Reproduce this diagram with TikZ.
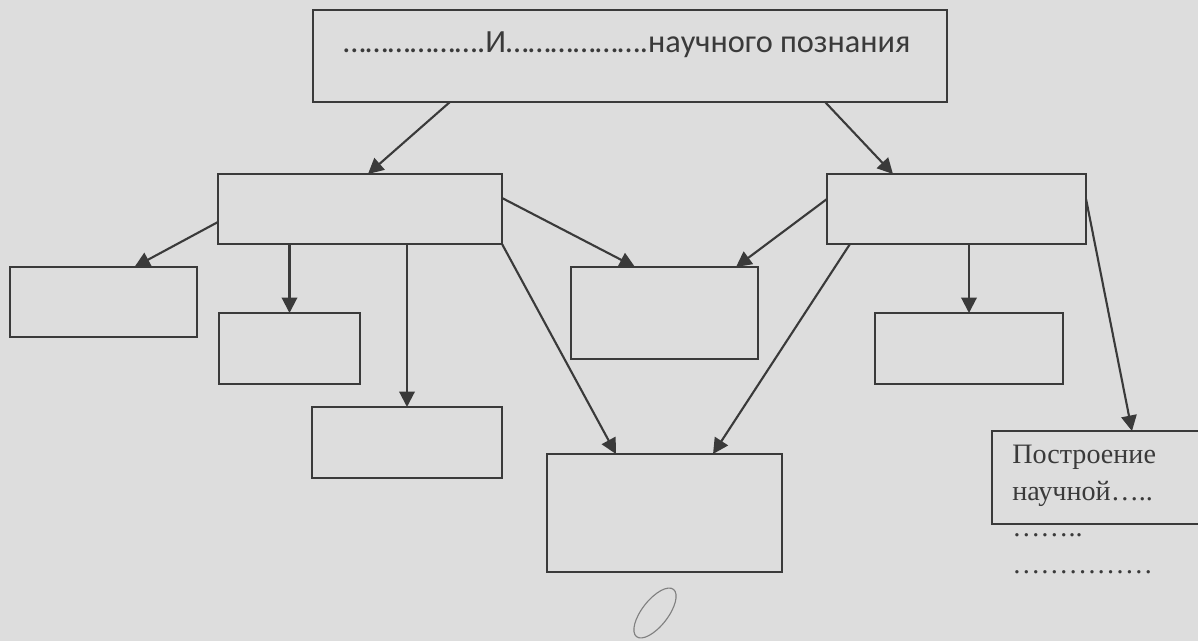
\documentclass[tikz,border=0pt]{standalone}
\usepackage{fontspec}
\setmainfont{Liberation Serif}
\newfontfamily\headfont{Carlito}
\usepackage{tikz}
\usetikzlibrary{arrows.meta,calc}
\definecolor{paper}{RGB}{221,221,221}
\definecolor{ink}{RGB}{58,58,58}
\tikzset{
	box/.style={rectangle,draw=ink,line width=1.7pt,inner sep=0pt,outer sep=0pt},
	link/.style={draw=ink,line width=1.5pt,-{Triangle[length=11pt,width=11pt]}}
}

\begin{document}
\begin{tikzpicture}[x=0.025cm,y=-0.025cm]
	\fill[paper] (0,0) rectangle (1198,641);
	\useasboundingbox (0,0) rectangle (1198,641);
	\node[box,minimum width=15.85cm,minimum height=2.3cm] (top) at (630,56) {};
	\node[box,minimum width=7.1cm,minimum height=1.75cm] (L) at (360,209) {};
	\node[box,minimum width=6.475cm,minimum height=1.75cm] (R) at (956.5,209) {};
	\node[box,minimum width=4.675cm,minimum height=1.75cm] (FL) at (103.5,302) {};
	\node[box,minimum width=3.525cm,minimum height=1.775cm] (Lc1) at (289.5,348.5) {};
	\node[box,minimum width=4.75cm,minimum height=1.775cm] (Lc2) at (407,442.5) {};
	\node[box,minimum width=4.675cm,minimum height=2.3cm] (M1) at (664.5,313) {};
	\node[box,minimum width=5.875cm,minimum height=2.95cm] (M2) at (664.5,513) {};
	\node[box,minimum width=4.7cm,minimum height=1.775cm] (Rc) at (969,348.5) {};
	\node[box,minimum width=5.2cm,minimum height=2.325cm] (BR) at (1096,477.5) {};
	\node[text=ink,font=\headfont\fontsize{23}{28}\selectfont] (title) at (627,45) {……………….И……………….научного познания};
	\node[text=ink,anchor=north west,align=left,inner sep=0pt,font=\fontsize{20}{26}\selectfont] (brtext) at (1012,445) {Построение\\научной…..\\……..\\……………};
    \draw[link] ($(top.south west)+(137,0)$) -- ($(L.north)+(8,0)$);
    \draw[link] ($(top.south east)+(-122,0)$) -- ($(R.north west)+(66,0)$);
    \draw[link] ($(L.south west)+(0,-22)$) -- ($(FL.north)+(31,0)$);
    \draw[link] (L.south -| Lc1.north) -- (Lc1.north);
    \draw[link] (L.south -| Lc2.north) -- (Lc2.north);
    \draw[link] ($(L.north east)+(0,24)$) -- ($(M1.north west)+(64,0)$);
    \draw[link] (L.south east) -- ($(M2.north west)+(69,0)$);
    \draw[link] ($(R.north west)+(0,25)$) -- ($(M1.north east)+(-22,0)$);
    \draw[link] ($(R.south west)+(23,0)$) -- ($(M2.north east)+(-69,0)$);
    \draw[link] (R.south -| Rc.north) -- (Rc.north);
    \draw[link] ($(R.north east)+(0,25)$) -- ($(BR.north west)+(140,0)$);
	%\draw[ink] (M2.south) -- ++(0,20);
	\draw[gray,line width=0.8pt,rotate around={-38:(655,613)}] (655,613) ellipse (13 and 30);
\end{tikzpicture}
\end{document}
